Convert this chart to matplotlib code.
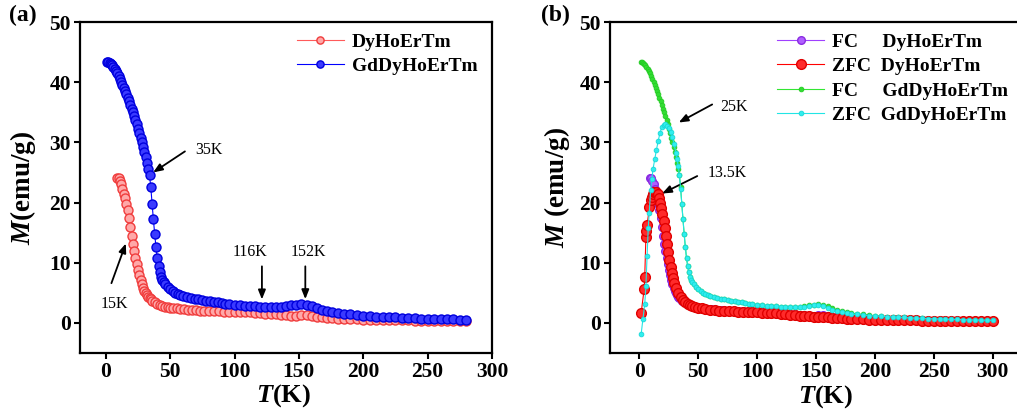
import matplotlib
matplotlib.use("Agg")
import matplotlib.pyplot as plt

plt.rcParams['font.family'] = ['Liberation Serif', 'DejaVu Serif']
plt.rcParams['font.weight'] = 'bold'
plt.rcParams['mathtext.fontset'] = 'custom'
plt.rcParams['mathtext.it'] = 'Liberation Serif:italic:bold'
plt.rcParams['mathtext.rm'] = 'Liberation Serif:bold'

# ---------------- data ----------------
# FC DyHoErTm (panel a red, panel b purple)
T_fc_dy = [9, 10, 11, 12, 13, 14, 15, 16, 17, 18,
           19, 20, 21, 22, 23, 24, 25, 26, 27, 28,
           29, 30, 31, 32, 33, 34, 35, 36, 38, 40,
           42, 44, 46, 48, 50, 52, 55, 58, 61, 64,
           67, 70, 73, 76, 80, 84, 88, 92, 96, 100,
           104, 108, 112, 116, 120, 124, 128, 132, 136, 140,
           144, 148, 152, 156, 160, 164, 168, 172, 176, 180,
           185, 190, 195, 200, 205, 210, 215, 220, 225, 230,
           235, 240, 245, 250, 255, 260, 265, 270, 275, 280,
           285, 290, 295, 300]
M_fc_dy = [24.1, 24.0, 23.6, 23.0, 22.3, 21.5, 20.7, 19.8, 18.7, 17.4,
           16.0, 14.5, 13.1, 11.9, 10.8, 9.8, 8.8, 7.9, 7.1, 6.4,
           5.8, 5.3, 4.9, 4.6, 4.3, 4.1, 3.9, 3.7, 3.4, 3.15,
           2.95, 2.8, 2.7, 2.6, 2.5, 2.45, 2.4, 2.3, 2.25, 2.2,
           2.15, 2.1, 2.05, 2.0, 1.95, 1.9, 1.9, 1.85, 1.85, 1.8,
           1.8, 1.75, 1.75, 1.7, 1.65, 1.55, 1.45, 1.4, 1.3, 1.25,
           1.2, 1.2, 1.25, 1.25, 1.15, 1.0, 0.9, 0.82, 0.76, 0.7,
           0.65, 0.6, 0.58, 0.55, 0.52, 0.5, 0.48, 0.46, 0.45, 0.43,
           0.42, 0.4, 0.4, 0.38, 0.37, 0.36, 0.35, 0.34, 0.33, 0.32,
           0.32, 0.31, 0.3, 0.3]

# FC GdDyHoErTm (panel a blue, panel b green)
T_fc_gd = [1, 2, 3, 4, 5, 6, 7, 8, 9, 10,
           11, 12, 13, 14, 15, 16, 17, 18, 19, 20,
           21, 22, 23, 24, 25, 26, 27, 28, 29, 30,
           31, 32, 33, 34, 35, 36, 37, 38, 39, 40,
           41, 42, 43, 44, 45, 46, 48, 50, 52, 54,
           56, 58, 60, 63, 66, 69, 72, 75, 78, 81,
           84, 87, 90, 93, 96, 100, 104, 108, 112, 116,
           120, 124, 128, 132, 136, 140, 144, 148, 152, 156,
           160, 164, 168, 172, 176, 180, 185, 190, 195, 200,
           205, 210, 215, 220, 225, 230, 235, 240, 245, 250,
           255, 260, 265, 270, 275, 280, 285, 290, 295, 300]
M_fc_gd = [43.3, 43.3, 43.2, 43.0, 42.8, 42.5, 42.2, 41.9, 41.5, 41.1,
           40.6, 40.1, 39.6, 39.1, 38.6, 38.0, 37.4, 36.8, 36.2, 35.6,
           35.0, 34.4, 33.7, 33.0, 32.3, 31.6, 30.8, 30.0, 29.2, 28.4,
           27.5, 26.5, 25.5, 24.5, 22.5, 19.8, 17.2, 14.8, 12.6, 10.8,
           9.4, 8.4, 7.7, 7.2, 6.8, 6.5, 6.0, 5.6, 5.3, 5.05,
           4.85, 4.7, 4.55, 4.35, 4.2, 4.05, 3.9, 3.8, 3.7, 3.6,
           3.5, 3.4, 3.3, 3.2, 3.1, 3.0, 2.9, 2.85, 2.8, 2.75,
           2.7, 2.65, 2.6, 2.6, 2.65, 2.75, 2.9, 3.05, 3.1, 3.0,
           2.75, 2.45, 2.15, 1.95, 1.8, 1.65, 1.5, 1.4, 1.3, 1.2,
           1.1, 1.05, 1.0, 0.95, 0.9, 0.85, 0.8, 0.76, 0.72, 0.68,
           0.65, 0.62, 0.6, 0.57, 0.54, 0.5, 0.48, 0.46, 0.44, 0.42]

# ZFC DyHoErTm (panel b red)
T_zfc_dy = [1.5, 4, 4.5, 5.5, 6, 6.5, 8.5, 9.5, 10.5, 11.5,
            12.5, 13.5, 14.5, 15.5, 16.5, 17.5, 18.5, 19.5, 20.5, 21.5,
            22.5, 23.5, 24.5, 25.5, 26.5, 27.5, 28.5, 29.5, 31, 33,
            35, 37, 39, 41, 43, 45, 47, 50, 53, 56,
            60, 64, 68, 72, 76, 80, 84, 88, 92, 96,
            100, 104, 108, 112, 116, 120, 124, 128, 132, 136,
            140, 144, 148, 152, 156, 160, 164, 168, 172, 176,
            180, 185, 190, 195, 200, 205, 210, 215, 220, 225,
            230, 235, 240, 245, 250, 255, 260, 265, 270, 275,
            280, 285, 290, 295, 300]
M_zfc_dy = [1.7, 5.6, 7.6, 14.3, 15.3, 16.2, 19.3, 20.4, 21.0, 21.4,
            21.7, 21.8, 21.7, 21.4, 20.8, 20.0, 19.1, 18.1, 17.0, 15.8,
            14.5, 13.1, 11.8, 10.5, 9.3, 8.3, 7.4, 6.7, 5.8, 4.9,
            4.3, 3.8, 3.45, 3.2, 3.0, 2.85, 2.7, 2.55, 2.4, 2.3,
            2.2, 2.1, 2.05, 2.0, 1.95, 1.9, 1.85, 1.8, 1.8, 1.75,
            1.75, 1.7, 1.7, 1.7, 1.65, 1.55, 1.45, 1.35, 1.3, 1.2,
            1.15, 1.1, 1.05, 1.0, 0.95, 0.9, 0.85, 0.8, 0.75, 0.7,
            0.66, 0.62, 0.58, 0.55, 0.52, 0.5, 0.48, 0.46, 0.44, 0.43,
            0.42, 0.41, 0.4, 0.39, 0.38, 0.37, 0.36, 0.35, 0.35, 0.34,
            0.34, 0.33, 0.33, 0.32, 0.32]

# ZFC GdDyHoErTm (panel b cyan)
T_zfc_gd = [1.5, 3, 4.5, 5.5, 6.5, 7.5, 8.3, 9.5, 10.5, 11.5,
            13, 14.5, 16, 17.5, 19, 20.5, 22, 23.5, 25, 26.5,
            28, 29.5, 31, 32, 33, 34, 35, 36, 37, 38,
            39, 40, 41, 42, 43, 44, 45, 46, 48, 50,
            52, 54, 56, 58, 60, 63, 66, 69, 72, 75,
            78, 81, 84, 87, 90, 93, 96, 100, 104, 108,
            112, 116, 120, 124, 128, 132, 136, 140, 144, 148,
            152, 156, 160, 164, 168, 172, 176, 180, 185, 190,
            195, 200, 205, 210, 215, 220, 225, 230, 235, 240,
            245, 250, 255, 260, 265, 270, 275, 280, 285, 290,
            295, 300]
M_zfc_gd = [-1.8, 0.7, 3.1, 6.1, 11.1, 15.8, 18.2, 22.1, 23.9, 25.5,
            27.2, 28.8, 30.3, 31.6, 32.5, 32.9, 33.0, 32.8, 32.4, 31.8,
            30.9, 29.7, 28.2, 27.2, 26.0, 24.5, 22.2, 19.8, 17.2, 14.8,
            12.6, 10.8, 9.4, 8.4, 7.7, 7.2, 6.8, 6.5, 6.0, 5.6,
            5.3, 5.05, 4.85, 4.7, 4.55, 4.35, 4.2, 4.05, 3.9, 3.8,
            3.7, 3.6, 3.5, 3.4, 3.3, 3.2, 3.1, 3.0, 2.9, 2.85,
            2.8, 2.75, 2.7, 2.65, 2.6, 2.6, 2.6, 2.7, 2.85, 2.95,
            2.95, 2.75, 2.45, 2.15, 1.9, 1.75, 1.6, 1.5, 1.4, 1.3,
            1.2, 1.15, 1.1, 1.05, 1.0, 0.95, 0.9, 0.85, 0.8, 0.76,
            0.72, 0.68, 0.65, 0.62, 0.6, 0.57, 0.54, 0.5, 0.48, 0.46,
            0.44, 0.42]

T_max_a = 280
x_ticks = [0, 50, 100, 150, 200, 250, 300]
y_ticks = [0, 10, 20, 30, 40, 50]

# ---------------- figure ----------------
W, H = 1017, 412
fig = plt.figure(figsize=(W / 100, H / 100), dpi=100)
ax1 = fig.add_axes([80 / W, 1 - 353 / H, 412 / W, 331 / H])
ax2 = fig.add_axes([610 / W, 1 - 353 / H, 412 / W, 331 / H])


def style_axes(ax, xlim):
    ax.set_xlim(*xlim)
    ax.set_ylim(-5, 50)
    ax.set_xticks(x_ticks)
    ax.set_yticks(y_ticks)
    for s in ax.spines.values():
        s.set_linewidth(1.6)
    ax.tick_params(direction='out', length=4, width=1.5, labelsize=15.5,
                   top=False, right=False, pad=2.5)
    for lbl in ax.get_xticklabels() + ax.get_yticklabels():
        lbl.set_fontweight('bold')


def arrow(ax, tail, head):
    ax.annotate('', xy=head, xytext=tail,
                arrowprops=dict(arrowstyle='-|>,head_length=0.55,head_width=0.22',
                                color='black', lw=1.3, shrinkA=0, shrinkB=0))


# ---- panel (a) ----
Ta_dy = [t for t in T_fc_dy if t <= T_max_a]
Ma_dy = M_fc_dy[:len(Ta_dy)]
Ta_gd = [t for t in T_fc_gd if t <= T_max_a]
Ma_gd = M_fc_gd[:len(Ta_gd)]

l1, = ax1.plot(Ta_dy, Ma_dy, '-o', color='#ff5a5a', lw=0.8, ms=6.5,
               mfc='#ffa8a8', mec='#f03c3c', mew=1.0, label='DyHoErTm', zorder=2)
l2, = ax1.plot(Ta_gd, Ma_gd, '-o', color='#0000ff', lw=0.8, ms=6.5,
               mfc='#3a3aff', mec='#0000dd', mew=1.0, label='GdDyHoErTm', zorder=3)
style_axes(ax1, (-20, 300))
ax1.set_xlabel(r'$T$(K)', fontsize=19, fontweight='bold')
ax1.set_ylabel(r'$M$(emu/g)', fontsize=19.5, fontweight='bold')
ax1.xaxis.set_label_coords(0.493, -0.088)
ax1.xaxis.label.set_va('top')
ax1.yaxis.set_label_coords(-0.103, 0.5)
ax1.legend(handles=[l1, l2], loc='upper left', bbox_to_anchor=(0.527, 0.966),
           frameon=False, prop={'size': 14, 'weight': 'bold'}, handlelength=2.4,
           handletextpad=0.4, labelspacing=0.35, borderpad=0, borderaxespad=0,
           markerscale=0.8)

txt = dict(fontsize=11.5, fontweight='normal', ha='center', va='center')
ax1.text(79.8, 28.8, '35K', **txt)
arrow(ax1, (61.5, 28.5), (36.8, 25.0))
ax1.text(7, 3.1, '15K', **txt)
arrow(ax1, (4.4, 6.6), (15.6, 13.2))
ax1.text(112, 11.8, '116K', **txt)
arrow(ax1, (121.3, 9.4), (121.3, 3.9))
ax1.text(157.6, 11.8, '152K', **txt)
arrow(ax1, (155, 9.4), (155, 3.95))
fig.text(23 / W, 1 - 15 / H, '(a)', fontsize=17, fontweight='bold', ha='center', va='center')

# ---- panel (b) ----
p1, = ax2.plot(T_fc_dy, M_fc_dy, '-o', color='#a040ff', lw=0.8, ms=5.5,
               mfc='#b060ff', mec='#8a2be2', mew=1.0, zorder=2)
p2, = ax2.plot(T_zfc_dy, M_zfc_dy, '-o', color='#ff0000', lw=0.8, ms=7,
               mfc='#ff2a2a', mec='#e00000', mew=1.0, zorder=3)
p3, = ax2.plot(T_fc_gd, M_fc_gd, '-o', color='#33e633', lw=0.8, ms=3.4,
               mfc='#33dd33', mec='#22cc22', mew=0.6, zorder=1)
p4, = ax2.plot(T_zfc_gd, M_zfc_gd, '-o', color='#22e5e5', lw=0.8, ms=3.4,
               mfc='#30eeee', mec='#18d8d8', mew=0.6, zorder=4)
style_axes(ax2, (-25, 325))
ax2.set_xlabel(r'$T$(K)', fontsize=19, fontweight='bold')
ax2.set_ylabel(r'$M$ (emu/g)', fontsize=19.5, fontweight='bold')
ax2.xaxis.set_label_coords(0.523, -0.092)
ax2.xaxis.label.set_va('top')
ax2.yaxis.set_label_coords(-0.093, 0.5)
ax2.legend(handles=[p1, p2, p3, p4],
           labels=['FC     DyHoErTm', 'ZFC  DyHoErTm', 'FC     GdDyHoErTm', 'ZFC  GdDyHoErTm'],
           loc='upper left', bbox_to_anchor=(0.406, 0.966),
           frameon=False, prop={'size': 14, 'weight': 'bold'}, handlelength=2.4,
           handletextpad=0.4, labelspacing=0.35, borderpad=0, borderaxespad=0)

ax2.text(80.2, 35.8, '25K', **txt)
arrow(ax2, (61.8, 36.3), (33.4, 33.3))
ax2.text(74.6, 24.9, '13.5K', **txt)
arrow(ax2, (49.1, 24.4), (19.3, 21.5))
fig.text(555 / W, 1 - 15 / H, '(b)', fontsize=17, fontweight='bold', ha='center', va='center')

fig.savefig('out.png', dpi=100)
